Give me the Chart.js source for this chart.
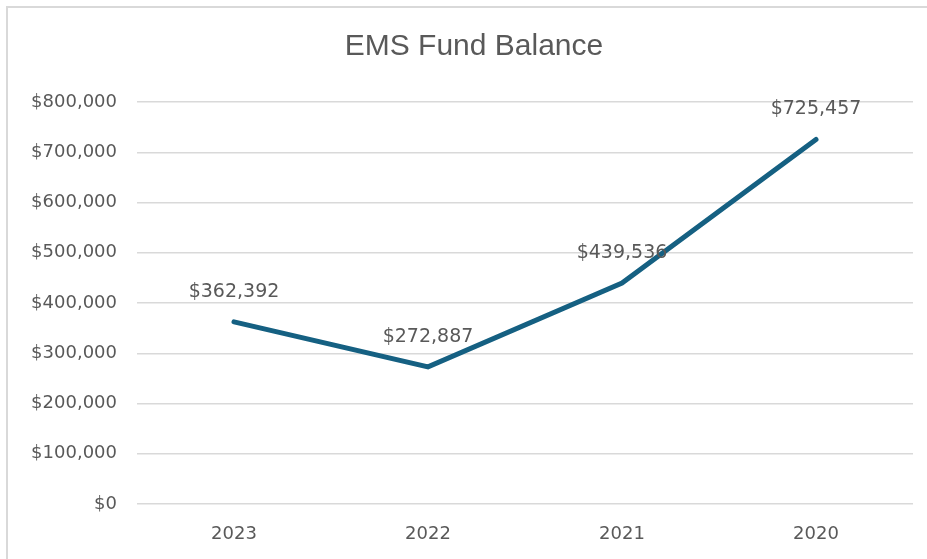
<!DOCTYPE html>
<html>
<head>
<meta charset="utf-8">
<script src="https://cdn.jsdelivr.net/npm/chart.js@4"></script>
<style>
    html, body { margin: 0; background: #fff; overflow: hidden; }
    #wrap { position: relative; width: 927px; height: 559px; overflow: hidden; }
    canvas { position: absolute; left: 0; top: 0; }
</style>
</head>
<body>
<div id="wrap">
    <canvas id="fundChart" width="948" height="559"></canvas>
</div>
<script>
const years = ["2023", "2022", "2021", "2020"];
const balances = [362392, 272887, 439536, 725457];
const yTicks = [0, 100000, 200000, 300000, 400000, 500000, 600000, 700000, 800000];

const textColor = "#595959";
const labelFont = "'DejaVu Sans', sans-serif";

function money(v) {
    return "$" + v.toLocaleString("en-US");
}

// outer chart frame (top and left edges)
const frame = {
    id: "frame",
    beforeDraw(chart) {
        const ctx = chart.ctx;
        ctx.save();
        ctx.strokeStyle = "#d9d9d9";
        ctx.lineWidth = 2;
        ctx.beginPath();
        ctx.moveTo(7, chart.height + 5);
        ctx.lineTo(7, 7);
        ctx.lineTo(chart.width + 5, 7);
        ctx.stroke();
        ctx.restore();
    }
};

// value labels above each point
const pointLabels = {
    id: "pointLabels",
    afterDatasetsDraw(chart) {
        const ctx = chart.ctx;
        const meta = chart.getDatasetMeta(0);
        ctx.save();
        ctx.font = "19px " + labelFont;
        ctx.fillStyle = textColor;
        ctx.textAlign = "center";
        ctx.textBaseline = "middle";
        meta.data.forEach((pt, i) => {
            ctx.fillText(money(balances[i]), pt.x, pt.y - 30);
        });
        ctx.restore();
    }
};

function drawChart() {
    const ctx = document.getElementById("fundChart").getContext("2d");
    new Chart(ctx, {
        type: "line",
        data: {
            labels: years,
            datasets: [{
                data: balances,
                borderColor: "#156082",
                borderWidth: 5,
                pointRadius: 0,
                borderCapStyle: "round",
                tension: 0
            }]
        },
        options: {
            responsive: false,
            animation: false,
            layout: { padding: 0 },
            plugins: {
                legend: { display: false },
                tooltip: { enabled: false },
                title: {
                    display: true,
                    text: "EMS Fund Balance",
                    color: textColor,
                    font: { family: "'Liberation Sans', Arial, sans-serif", size: 30, weight: "normal" },
                    padding: { top: 29, bottom: 37 }
                }
            },
            scales: {
                x: {
                    offset: true,
                    grid: { display: false, drawTicks: false },
                    border: { display: false },
                    ticks: { color: textColor, font: { family: labelFont, size: 18 }, padding: 20 },
                    afterFit(scale) { scale.height = 55; }
                },
                y: {
                    min: 0,
                    max: 800000,
                    afterBuildTicks(scale) { scale.ticks = yTicks.map(v => ({ value: v })); },
                    grid: { color: "#d9d9d9", lineWidth: 1.5, drawTicks: false },
                    border: { display: false },
                    ticks: {
                        color: textColor,
                        font: { family: labelFont, size: 18 },
                        padding: 20,
                        callback: v => money(v)
                    },
                    afterFit(scale) { scale.width = 137; }
                },
                // empty right-hand gutter
                yRight: {
                    position: "right",
                    grid: { display: false, drawTicks: false },
                    border: { display: false },
                    ticks: { display: false },
                    afterFit(scale) { scale.width = 35; }
                }
            }
        },
        plugins: [frame, pointLabels]
    });
}

window.onload = drawChart;
</script>
</body>
</html>
